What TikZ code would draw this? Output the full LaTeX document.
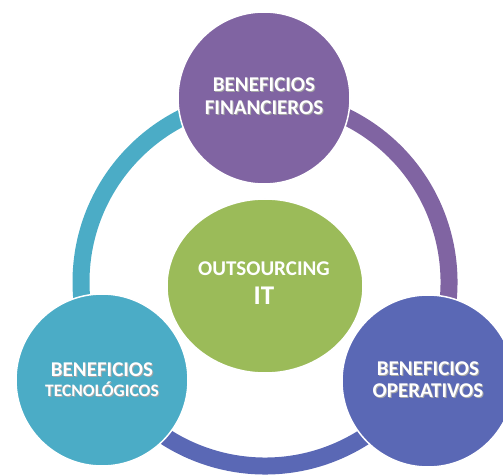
\documentclass[tikz,border=0pt]{standalone}
\usepackage{fontspec}
\setmainfont{Carlito}
\usetikzlibrary{shapes.geometric}
\definecolor{cpurple}{HTML}{8064A2}
\definecolor{cteal}{HTML}{4BACC6}
\definecolor{cblue}{HTML}{5A68B5}
\definecolor{cgreen}{HTML}{9BBB59}
\begin{document}
\begin{tikzpicture}[x=1pt,y=1pt,
  ring/.style={line width=17pt},
  bubble/.style={circle,draw=white,line width=1.5pt,minimum size=172pt,inner sep=0pt},
  lbl/.style={anchor=base,inner sep=0pt,font=\bfseries\fontsize{21}{24}\selectfont},
  sml/.style={anchor=base,inner sep=0pt,font=\bfseries\fontsize{17.5}{20}\selectfont}]
\useasboundingbox (0,0) rectangle (503,474);
\clip (0,0) rectangle (503,474);
\coordinate (c) at (265,192);
% ring segments
\draw[ring,cteal] (c) ++(90:184) arc[start angle=90,end angle=210,radius=184];
\draw[ring,cpurple] (c) ++(-30:184) arc[start angle=-30,end angle=90,radius=184];
\draw[ring,cblue] (c) ++(210:184) arc[start angle=210,end angle=330,radius=184];
% bubbles
\node[bubble,fill=cpurple] (fin) at (264,376) {};
\node[bubble,fill=cteal] (tec) at (102,94) {};
\node[bubble,fill=cblue] (ope) at (428,93) {};
\node[ellipse,fill=cgreen,draw=white,line width=1.5pt,minimum width=196pt,minimum height=174pt,inner sep=0pt] (it) at (265,188) {};
% labels with soft shadow
\foreach \dx/\dy/\col in {1/-1/black!35, 0/0/white}{
  \begin{scope}[shift={(\dx,\dy)},text=\col]
  \node[lbl] (fa) at (264,382) {BENEFICIOS};
  \node[lbl] (fb) at (264,359.5) {FINANCIEROS};
  \node[lbl] (ta) at (102,98) {BENEFICIOS};
  \node[sml] (tb) at (102,78) {TECNOL\'OGICOS};
  \node[lbl] (oa) at (428,99) {BENEFICIOS};
  \node[lbl] (ob) at (428,77) {OPERATIVOS};
  \end{scope}
}
\node[lbl,text=white] (ia) at (264,198) {OUTSOURCING};
\node[lbl,text=white,font=\bfseries\fontsize{27}{30}\selectfont] (ib) at (264,169) {IT};
\end{tikzpicture}
\end{document}
